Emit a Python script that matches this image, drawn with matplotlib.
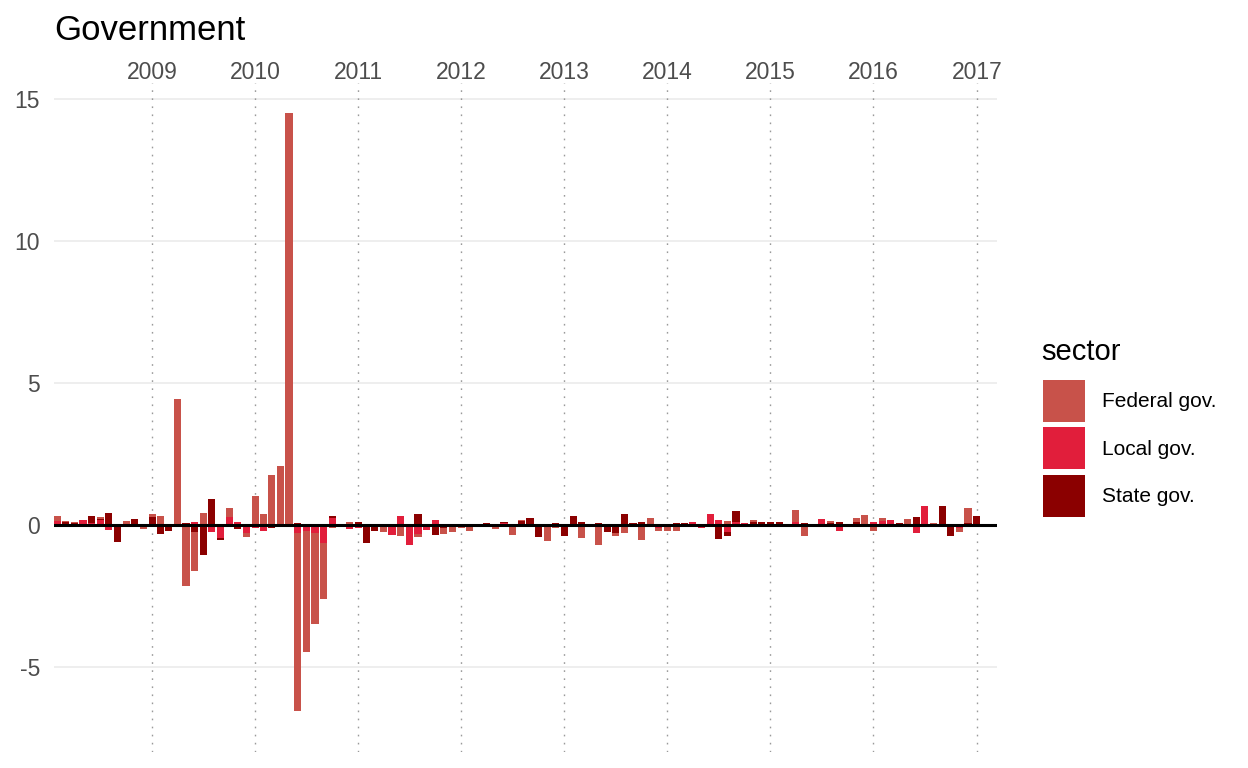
import numpy as np
import pandas as pd
import matplotlib
matplotlib.use("Agg")
import matplotlib.pyplot as plt
import matplotlib.dates as mdates
from matplotlib.patches import Patch

plt.rcParams['font.family'] = ['Liberation Sans', 'DejaVu Sans']

# monthly changes, Feb 2008 - Mar 2017
months = pd.date_range('2008-02-01', periods=110, freq='MS')

federal = [0.18, 0.04, 0.04, 0, 0, 0.07, 0, 0.05, 0.14, 0,
           -0.14, 0.1, 0.32, 0, 4.45, -2.15, -1.37, 0.42, 0, 0,
           0.32, 0, -0.14, 1.02, 0.39, 1.76, 2.08, 14.5, -6.27, -4.27,
           -3.21, -1.98, -0.12, 0, 0.1, 0, 0, 0, -0.2, 0,
           -0.34, 0, -0.1, 0, 0, -0.2, -0.25, -0.12, -0.2, 0,
           0, -0.1, 0, -0.35, 0.04, 0, 0, -0.56, -0.12, 0,
           0, -0.46, 0, -0.7, 0, -0.1, -0.28, 0, -0.53, 0.25,
           -0.1, -0.2, -0.2, -0.07, 0, 0, 0, 0, 0.14, 0,
           0, 0.07, 0, 0, 0, 0, 0.42, -0.39, 0, 0,
           0.07, 0, 0, 0.14, 0.35, -0.2, 0.1, 0, 0, 0.2,
           0, 0, 0.07, 0, 0, -0.14, 0.53, -0.05, 0, -0.05]

local = [0.14, 0.03, 0, 0.18, 0.07, 0.18, -0.18, 0, 0, 0,
         0, 0, 0, 0, -0.08, 0, 0.1, 0, -0.25, -0.46,
         0.28, 0.1, -0.28, -0.12, -0.21, 0, 0, 0, -0.28, -0.21,
         -0.28, -0.63, 0.25, -0.04, -0.14, -0.12, 0, 0, 0, -0.35,
         0.32, -0.7, -0.32, -0.18, 0.18, 0, 0, 0, 0, 0,
         -0.05, -0.05, 0.07, 0, -0.05, 0, 0, 0, 0, -0.04,
         0, 0, 0, 0, 0, 0, 0, 0, 0, 0,
         -0.1, 0, 0, 0, 0.1, -0.1, 0.39, 0.18, -0.25, 0.1,
         0.07, 0, 0, 0, 0, 0, 0.1, 0, 0, 0.21,
         0, -0.2, 0, 0.05, 0, 0.1, 0.14, 0.18, 0, 0,
         -0.28, 0.67, 0, 0, 0, -0.1, 0, 0, 0, 0]

state = [0, 0.07, 0.07, 0, 0.25, 0.04, 0.42, -0.6, 0, 0.21,
         0, 0.28, -0.32, -0.21, 0, 0.07, -0.25, -1.06, 0.93, -0.07,
         0, -0.14, 0, 0, 0, -0.1, -0.06, 0, 0.07, 0,
         0, 0, 0.07, -0.04, 0, 0.1, -0.63, -0.21, -0.05, 0,
         -0.05, 0, 0.39, 0, -0.35, -0.12, 0, 0, 0.03, 0.03,
         0.07, 0, 0.04, 0, 0.14, 0.25, -0.42, 0, 0.07, -0.35,
         0.32, 0.1, -0.08, 0.07, -0.25, -0.28, 0.39, 0.07, 0.1, 0,
         0, 0, 0.07, 0.07, 0, 0, 0, -0.49, -0.14, 0.39,
         0, 0.1, 0.1, 0.1, 0.1, -0.05, 0, 0.07, 0, 0,
         0.07, 0.1, 0.05, 0.04, 0, 0, -0.05, 0, 0.07, -0.05,
         0.28, 0, 0, 0.67, -0.39, 0, 0.07, 0.32, 0, 0]

sectors = ['Federal gov.', 'Local gov.', 'State gov.']
colors = {'Federal gov.': '#C8524A', 'Local gov.': '#E11E3B', 'State gov.': '#8B0000'}
years = pd.date_range('2009-01-01', '2017-01-01', freq='YS')

x = mdates.date2num(months)
width = 25.2  # days

fig = plt.figure(figsize=(12.48, 7.68), dpi=100)
ax = fig.add_axes([54 / 1248, 1 - 752 / 768, (997 - 54) / 1248, (752 - 83) / 768])

# stack outward from zero: local, state, federal
pos = np.zeros(len(x))
neg = np.zeros(len(x))
for name, vals in [('Local gov.', local), ('State gov.', state), ('Federal gov.', federal)]:
    v = np.array(vals, dtype=float)
    p = np.where(v > 0, v, 0)
    q = np.where(v < 0, v, 0)
    ax.bar(x, p, width=width, bottom=pos, color=colors[name], linewidth=0, zorder=2)
    ax.bar(x, q, width=width, bottom=neg, color=colors[name], linewidth=0, zorder=2)
    pos += p
    neg += q

for d in years:
    ax.axvline(mdates.date2num(d), color='#9A9A9A', lw=1.0, ls=(0, (1.2, 4.6)), zorder=1)
ax.axhline(0, color='black', lw=2.2, zorder=3)

ax.set_xlim(x[0] - width / 2, x[-1] + width / 2)
ax.set_ylim(-7.99, 15.56)

ax.set_yticks([-5, 0, 5, 10, 15])
ax.set_yticklabels(['-5', '0', '5', '10', '15'])
ax.yaxis.grid(True, color='#EBEBEB', lw=1.2, zorder=0)
ax.xaxis.grid(False)
ax.set_axisbelow(True)

ax.xaxis.tick_top()
ax.set_xticks(mdates.date2num(years))
ax.set_xticklabels([str(d.year) for d in years])
ax.tick_params(axis='both', length=0, labelsize=16.5, labelcolor='#4D4D4D')
ax.tick_params(axis='x', pad=-0.5)
ax.tick_params(axis='y', pad=10)
for s in ax.spines.values():
    s.set_visible(False)

fig.text(54 / 1248, 1 - 40 / 768, 'Government', fontsize=25, va='baseline', ha='left')

# legend
fig.text(1041 / 1248, 1 - 360 / 768, 'sector', fontsize=21, va='baseline', ha='left')
handles = [Patch(facecolor=colors[s], edgecolor='none') for s in sectors]
fig.legend(handles, sectors, loc='upper left',
           bbox_to_anchor=(1043 / 1248, 1 - 380 / 768), frameon=False,
           fontsize=15, handlelength=2.02, handleheight=2.73,
           labelspacing=0.25, handletextpad=0.8, borderpad=0, borderaxespad=0)

fig.savefig('out.png', dpi=100)
